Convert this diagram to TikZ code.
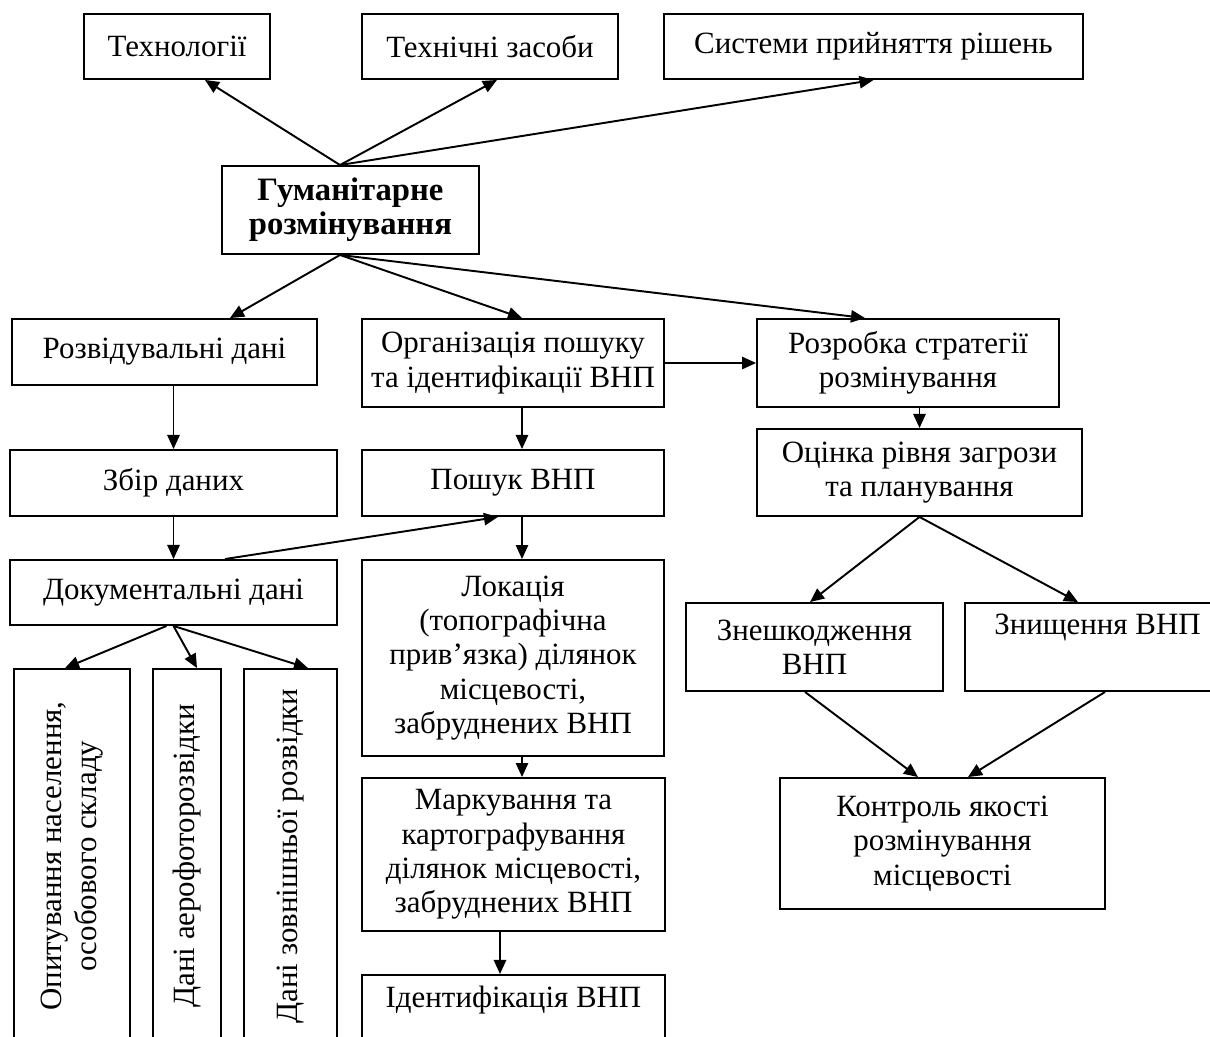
\documentclass[tikz,border=0pt]{standalone}
\usepackage{fontspec}
\setmainfont{Liberation Serif}
\usetikzlibrary{arrows.meta}

\begin{document}
\begin{tikzpicture}[x=0.02cm, y=-0.02cm,
		font=\fontsize{17.6}{19.5}\selectfont,
		box/.style={draw, line width=1.1pt, align=center, inner sep=2pt},
		vbox/.style={box, rotate=90, minimum width=7.48cm},
		arr/.style={line width=1.1pt, -{Triangle[length=8pt,width=7pt]}}]

			\useasboundingbox (0,0) rectangle (1210,1037);

			\node [box, minimum width=3.72cm, minimum height=1.3cm] (tech) at (177,46.5) {Технології};
			\node [box, minimum width=5.12cm, minimum height=1.3cm] (means) at (490,46.5) {Технічні засоби};
			\node [box, minimum width=8.38cm, minimum height=1.3cm] (dss) at (873.5,46.5) {Системи прийняття рішень};

			\node [box, minimum width=5.14cm, minimum height=1.76cm, font=\fontsize{18.6}{19.5}\selectfont\bfseries] (hum) at (350.5,210) {Гуманітарне\\розмінування};

			\node [box, minimum width=6.1cm, minimum height=1.32cm] (recon) at (164.5,352) {Розвідувальні дані};
			\node [box, minimum width=6.04cm, minimum height=1.76cm] (org) at (513,363) {Організація пошуку\\та ідентифікації ВНП};
			\node [box, minimum width=6.04cm, minimum height=1.76cm] (strat) at (908,363) {Розробка стратегії\\розмінування};

			\node [box, minimum width=6.54cm, minimum height=1.32cm] (collect) at (173.5,483) {Збір даних};
			\node [box, minimum width=6.04cm, minimum height=1.32cm] (search) at (513,483) {Пошук ВНП};
			\node [box, minimum width=6.5cm, minimum height=1.74cm] (threat) at (919.5,472.5) {Оцінка рівня загрози\\та планування};

			\node [box, minimum width=6.54cm, minimum height=1.3cm] (docs) at (173.5,592.5) {Документальні дані};
			\node [box, minimum width=6.04cm, minimum height=3.92cm] (loc) at (513,658) {Локація\\(топографічна\\прив’язка) ділянок\\місцевості,\\забруднених ВНП};

			\node [box, minimum width=5.14cm, minimum height=1.76cm] (neutr) at (814.5,647) {Знешкодження\\ВНП};
			\node [box, minimum width=5.3cm, minimum height=1.76cm] (destr) at (1097.5,647) {Знищення ВНП\\ \strut};

			\node [vbox, minimum height=2.32cm] (poll) at (72,856) {Опитування населення,\\особового складу};
			\node [vbox, minimum height=1.36cm] (aero) at (187,856) {Дані аерофоторозвідки};
			\node [vbox, minimum height=1.86cm] (ext) at (290.5,856) {Дані зовнішньої розвідки};

			\node [box, minimum width=6.06cm, minimum height=3.06cm] (mark) at (513.5,854.5) {Маркування та\\картографування\\ділянок місцевості,\\забруднених ВНП};
			\node [box, minimum width=6.06cm, minimum height=1.76cm] (ident) at (513.5,1019) {Ідентифікація ВНП\\ \strut};

			\node [box, minimum width=6.5cm, minimum height=2.62cm] (qc) at (942.5,843.5) {Контроль якості\\розмінування\\місцевості};

			\draw [arr] ([xshift=-0.21cm]hum.north) -- ([xshift=0.56cm]tech.south);
			\draw [arr] ([xshift=-0.21cm]hum.north) -- ([xshift=0.14cm]means.south);
			\draw [arr] ([xshift=-0.21cm]hum.north) -- (dss.south);

			\draw [arr] ([xshift=-0.21cm]hum.south) -- ([xshift=1.31cm]recon.north);
			\draw [arr] ([xshift=-0.21cm]hum.south) -- ([xshift=0.18cm]org.north);
			\draw [arr] ([xshift=-0.21cm]hum.south) -- ([xshift=-0.86cm]strat.north);

			\draw [arr] (collect.north |- recon.south) -- (collect.north);
			\draw [arr] (collect.south) -- (docs.north);
			\draw [arr] ([xshift=1.03cm]docs.north) -- ([xshift=-0.3cm]search.south);

			\draw [arr] ([xshift=-0.14cm]docs.south) -- ([xshift=-0.14cm]poll.east);
			\draw [arr] (docs.south) -- ([xshift=0.2cm]aero.east);
			\draw [arr] (docs.south) -- ([xshift=0.35cm]ext.east);

			\draw [arr] ([xshift=0.18cm]org.south) -- ([xshift=0.18cm]search.north);
			\draw [arr] ([xshift=0.18cm]search.south) -- ([xshift=0.18cm]loc.north);
			\draw [arr] ([xshift=0.18cm]loc.south) -- ([xshift=0.17cm]mark.north);
			\draw [arr] ([xshift=-0.27cm]mark.south) -- ([xshift=-0.27cm]ident.north);

			\draw [arr] (org.east) -- (strat.west);
			\draw [arr] (threat.north |- strat.south) -- (threat.north);
			\draw [arr] (threat.south) -- ([xshift=-0.09cm]neutr.north);
			\draw [arr] (threat.south) -- ([xshift=-0.39cm]destr.north);

			\draw [arr] ([xshift=-0.19cm]neutr.south) -- ([xshift=-0.49cm]qc.north);
			\draw [arr] ([xshift=0.15cm]destr.south) -- ([xshift=0.51cm]qc.north);
		\end{tikzpicture}
\end{document}
